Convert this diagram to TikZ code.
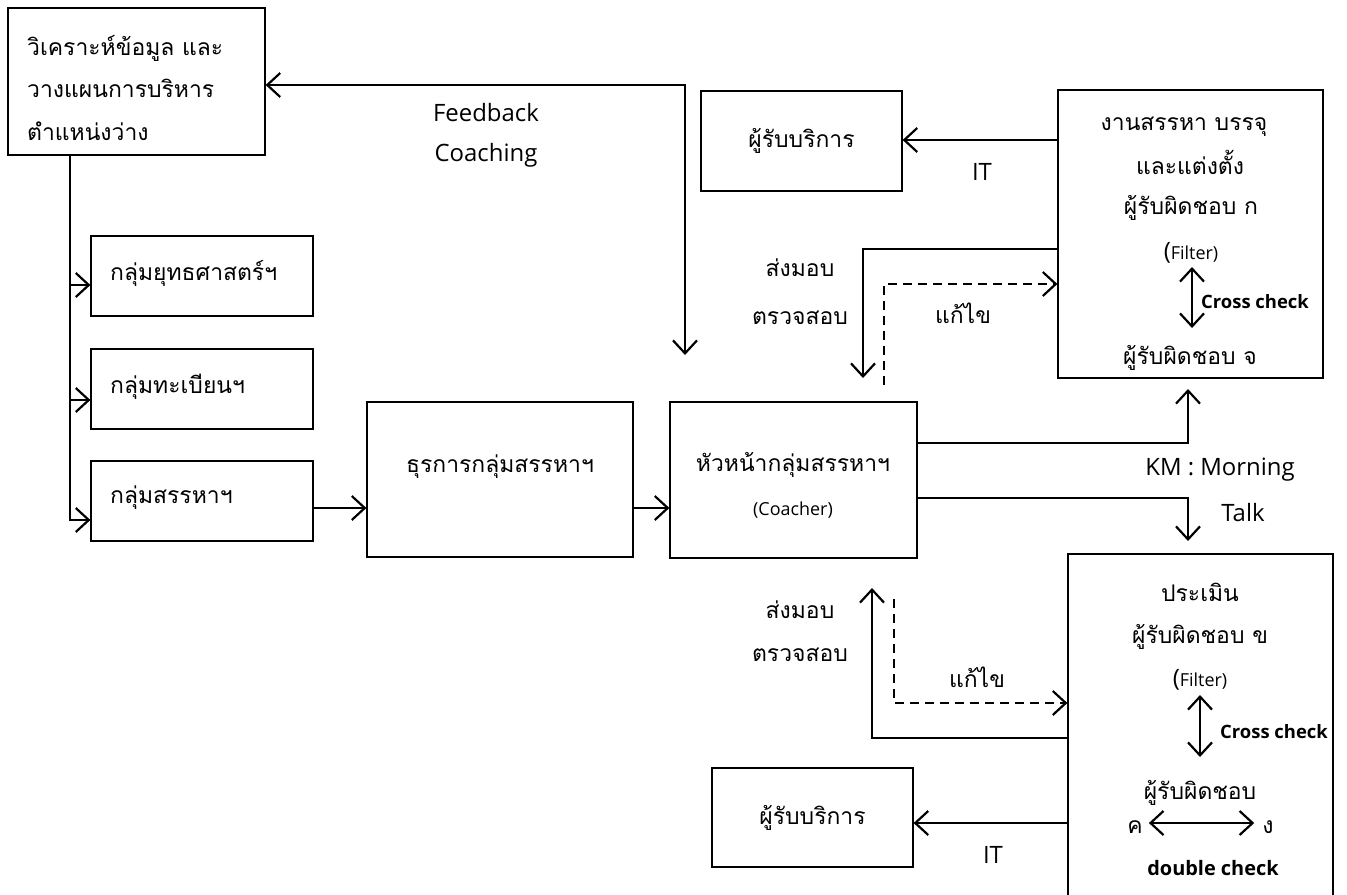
\documentclass[tikz,border=0pt]{standalone}
\usepackage{fontspec}
\setmainfont{Open Sans}
\newfontfamily\thaifont[Script=Thai]{Loma}
\usetikzlibrary{arrows.meta}
\begin{document}
\begin{tikzpicture}[x=1bp,y=-1bp,
  box/.style={draw,line width=1.2bp,inner sep=0pt},
  conn/.style={line width=2.2bp},
  arr/.style={conn,-{Straight Barb[length=13bp,width=24bp]}},
  darr/.style={conn,{Straight Barb[length=13bp,width=24bp]}-{Straight Barb[length=13bp,width=24bp]}},
  dline/.style={conn,dash pattern=on 9bp off 6bp,-{Straight Barb[length=13bp,width=24bp]}},
  th/.style={font=\thaifont\fontsize{23}{43}\selectfont,inner sep=0pt},
  lat/.style={font=\fontsize{24}{28}\selectfont,inner sep=0pt},
  sm/.style={font=\bfseries\fontsize{18.5}{22}\selectfont,inner sep=0pt},
  fl/.style={font=\fontsize{18}{22}\selectfont,inner sep=0pt}
]
\useasboundingbox (0,0) rectangle (1347,894);

% boxes
\node[box,minimum width=257bp,minimum height=147bp] (an) at (136.5,81.5) {};
\node[th,anchor=west,align=left] (ant) at (27,88) {วิเคราะห์ข้อมูล และ\\วางแผนการบริหาร\\ตำแหน่งว่าง};

\node[box,minimum width=222bp,minimum height=80bp] (g1) at (202,276) {};
\node[th,anchor=west] (g1t) at (110,273) {กลุ่มยุทธศาสตร์ฯ};
\node[box,minimum width=222bp,minimum height=80bp] (g2) at (202,389) {};
\node[th,anchor=west] (g2t) at (110,387) {กลุ่มทะเบียนฯ};
\node[box,minimum width=222bp,minimum height=80bp] (g3) at (202,501) {};
\node[th,anchor=west] (g3t) at (110,498) {กลุ่มสรรหาฯ};

\node[box,minimum width=266bp,minimum height=155bp] (dk) at (500,479.5) {};
\node[th] (dkt) at (500,467) {ธุรการกลุ่มสรรหาฯ};

\node[box,minimum width=247bp,minimum height=156bp] (hd) at (793.5,480) {};
\node[th] (hdt) at (793,465) {หัวหน้ากลุ่มสรรหาฯ};
\node[fl] (hdc) at (793,510) {(Coacher)};

\node[box,minimum width=201bp,minimum height=100bp] (sv1) at (801.5,141) {};
\node[th] (sv1t) at (801.5,141) {ผู้รับบริการ};
\node[box,minimum width=201bp,minimum height=99bp] (sv2) at (812.5,817.5) {};
\node[th] (sv2t) at (812.5,817.5) {ผู้รับบริการ};

\node[box,minimum width=265bp,minimum height=288bp] (tr) at (1190.5,234) {};
\node[th] (tr1) at (1184,127) {งานสรรหา บรรจุ};
\node[th] (tr2) at (1190,162) {และแต่งตั้ง};
\node[th] (tr3) at (1191,208) {ผู้รับผิดชอบ ก};
\node[fl] (tr4) at (1191,253) {{\fontsize{24}{26}\selectfont(}Filter)};
\node[sm,anchor=west] (tr5) at (1201,302) {Cross check};
\node[th] (tr6) at (1190,358) {ผู้รับผิดชอบ จ};
\draw[darr] (1192,267) -- (1192,328);

\node[box,minimum width=265bp,minimum height=346bp] (br) at (1200.5,727) {};
\node[th] (br1) at (1200,592) {ประเมิน};
\node[th] (br2) at (1200,637) {ผู้รับผิดชอบ ข};
\node[fl] (br3) at (1200,680) {{\fontsize{24}{26}\selectfont(}Filter)};
\node[sm,anchor=west] (br4) at (1220,732) {Cross check};
\node[th] (br5) at (1200,793) {ผู้รับผิดชอบ};
\node[th] (brk) at (1135,827) {ค};
\node[th] (brg) at (1268,827) {ง};
\node[sm,font=\bfseries\fontsize{20}{24}\selectfont] (br6) at (1213,868) {double check};
\draw[darr] (brk.east |- 0,823) ++(6,0) -- ([xshift=-8bp]brg.west |- 0,823);
\draw[darr] (1200,695) -- (1200,757);

% feedback
\coordinate (fbend) at (685,355);
\draw[darr] (an.east |- 0,85) -- (fbend |- 0,85) -- (fbend);
\node[lat] (fb1) at (486,113) {Feedback};
\node[lat] (fb2) at (486,155) {Coaching};

% trunk
\coordinate (tk) at (70,155);
\draw[conn] (tk) -- (tk |- 0,521);
\draw[arr] (tk |- 0,285) -- (g1.west |- 0,285);
\draw[arr] (tk |- 0,400) -- (g2.west |- 0,400);
\draw[arr] (tk |- 0,520) -- (g3.west |- 0,520);

\draw[arr] (g3.east |- 0,508) -- (dk.west |- 0,508);
\draw[arr] (dk.east |- 0,508) -- (hd.west |- 0,508);

% top right
\draw[arr] (tr.west |- 0,140) -- (sv1.east |- 0,140);
\node[lat] (it1) at (982,172) {IT};
\coordinate (a1) at (863,378);
\coordinate (d1) at (884,385);
\draw[arr] (tr.west |- 0,249) -| (a1);
\draw[dline] (d1) |- (tr.west |- 0,284);
\node[th] (sm1) at (800,268) {ส่งมอบ};
\node[th] (ts1) at (800,318) {ตรวจสอบ};
\node[th] (kk1) at (963,313) {แก้ไข};

% KM
\coordinate (km1) at (1188,389);
\coordinate (km2) at (1188,541);
\draw[arr] (hd.east |- 0,443) -| (km1);
\draw[arr] (hd.east |- 0,498) -| (km2);
\node[lat] (km) at (1220,470) {KM : Morning};
\node[lat] (tk2) at (1243,513) {Talk};

% bottom right
\coordinate (a2) at (872,588);
\coordinate (d2) at (894,599);
\draw[arr] (br.west |- 0,738) -| (a2);
\draw[dline] (d2) |- (br.west |- 0,703);
\node[th] (sm2) at (800,610) {ส่งมอบ};
\node[th] (ts2) at (800,655) {ตรวจสอบ};
\node[th] (kk2) at (977,677) {แก้ไข};
\draw[arr] (br.west |- 0,823) -- (sv2.east |- 0,823);
\node[lat] (it2) at (993,855) {IT};
\end{tikzpicture}
\end{document}
